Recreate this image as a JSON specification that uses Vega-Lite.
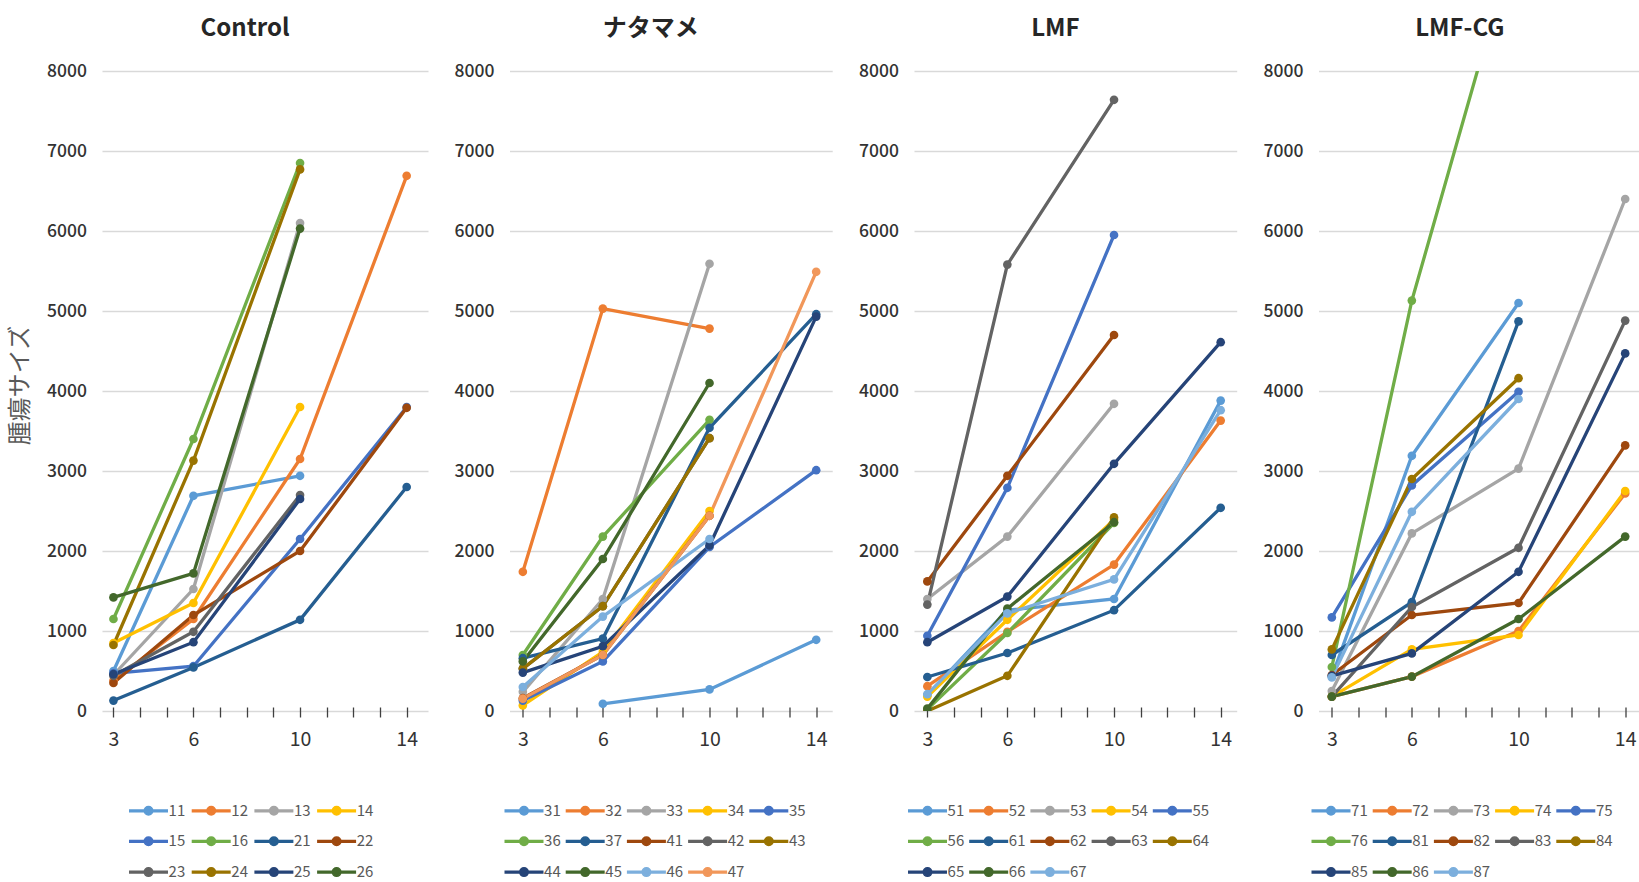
{
  "$schema": "https://vega.github.io/schema/vega-lite/v6.json",
  "padding": {"left": 8, "top": 16, "right": 0, "bottom": 0},
  "background": "white",
  "spacing": 25.5,
  "datasets": {
    "control": [
      {"id": "11", "day": 3, "size": 500}, {"id": "11", "day": 6, "size": 2690}, {"id": "11", "day": 10, "size": 2940},
      {"id": "12", "day": 3, "size": 380}, {"id": "12", "day": 6, "size": 1150}, {"id": "12", "day": 10, "size": 3150}, {"id": "12", "day": 14, "size": 6690},
      {"id": "13", "day": 3, "size": 450}, {"id": "13", "day": 6, "size": 1525}, {"id": "13", "day": 10, "size": 6100},
      {"id": "14", "day": 3, "size": 850}, {"id": "14", "day": 6, "size": 1350}, {"id": "14", "day": 10, "size": 3800},
      {"id": "15", "day": 3, "size": 470}, {"id": "15", "day": 6, "size": 560}, {"id": "15", "day": 10, "size": 2150}, {"id": "15", "day": 14, "size": 3800},
      {"id": "16", "day": 3, "size": 1150}, {"id": "16", "day": 6, "size": 3400}, {"id": "16", "day": 10, "size": 6850},
      {"id": "21", "day": 3, "size": 130}, {"id": "21", "day": 6, "size": 545}, {"id": "21", "day": 10, "size": 1140}, {"id": "21", "day": 14, "size": 2800},
      {"id": "22", "day": 3, "size": 350}, {"id": "22", "day": 6, "size": 1200}, {"id": "22", "day": 10, "size": 2000}, {"id": "22", "day": 14, "size": 3790},
      {"id": "23", "day": 3, "size": 440}, {"id": "23", "day": 6, "size": 990}, {"id": "23", "day": 10, "size": 2700},
      {"id": "24", "day": 3, "size": 825}, {"id": "24", "day": 6, "size": 3130}, {"id": "24", "day": 10, "size": 6770},
      {"id": "25", "day": 3, "size": 460}, {"id": "25", "day": 6, "size": 860}, {"id": "25", "day": 10, "size": 2650},
      {"id": "26", "day": 3, "size": 1420}, {"id": "26", "day": 6, "size": 1720}, {"id": "26", "day": 10, "size": 6030}
    ],
    "natamame": [
      {"id": "31", "day": 6, "size": 90}, {"id": "31", "day": 10, "size": 270}, {"id": "31", "day": 14, "size": 890},
      {"id": "32", "day": 3, "size": 1740}, {"id": "32", "day": 6, "size": 5030}, {"id": "32", "day": 10, "size": 4780},
      {"id": "33", "day": 3, "size": 240}, {"id": "33", "day": 6, "size": 1400}, {"id": "33", "day": 10, "size": 5590},
      {"id": "34", "day": 3, "size": 70}, {"id": "34", "day": 6, "size": 740}, {"id": "34", "day": 10, "size": 2500},
      {"id": "35", "day": 3, "size": 130}, {"id": "35", "day": 6, "size": 620}, {"id": "35", "day": 10, "size": 2050}, {"id": "35", "day": 14, "size": 3010},
      {"id": "36", "day": 3, "size": 700}, {"id": "36", "day": 6, "size": 2180}, {"id": "36", "day": 10, "size": 3640},
      {"id": "37", "day": 3, "size": 660}, {"id": "37", "day": 6, "size": 905}, {"id": "37", "day": 10, "size": 3540}, {"id": "37", "day": 14, "size": 4960},
      {"id": "41", "day": 3, "size": 160}, {"id": "41", "day": 6, "size": 700}, {"id": "41", "day": 10, "size": 2440},
      {"id": "42", "day": 3, "size": 530}, {"id": "42", "day": 6, "size": 1310}, {"id": "42", "day": 10, "size": 3410},
      {"id": "43", "day": 3, "size": 530}, {"id": "43", "day": 6, "size": 1310}, {"id": "43", "day": 10, "size": 3410},
      {"id": "44", "day": 3, "size": 480}, {"id": "44", "day": 6, "size": 810}, {"id": "44", "day": 10, "size": 2070}, {"id": "44", "day": 14, "size": 4930},
      {"id": "45", "day": 3, "size": 620}, {"id": "45", "day": 6, "size": 1900}, {"id": "45", "day": 10, "size": 4100},
      {"id": "46", "day": 3, "size": 300}, {"id": "46", "day": 6, "size": 1180}, {"id": "46", "day": 10, "size": 2150},
      {"id": "47", "day": 3, "size": 155}, {"id": "47", "day": 6, "size": 700}, {"id": "47", "day": 10, "size": 2440}, {"id": "47", "day": 14, "size": 5490}
    ],
    "lmf": [
      {"id": "51", "day": 3, "size": 200}, {"id": "51", "day": 6, "size": 1260}, {"id": "51", "day": 10, "size": 1400}, {"id": "51", "day": 14, "size": 3880},
      {"id": "52", "day": 3, "size": 310}, {"id": "52", "day": 6, "size": 990}, {"id": "52", "day": 10, "size": 1830}, {"id": "52", "day": 14, "size": 3630},
      {"id": "53", "day": 3, "size": 1400}, {"id": "53", "day": 6, "size": 2180}, {"id": "53", "day": 10, "size": 3840},
      {"id": "54", "day": 3, "size": 180}, {"id": "54", "day": 6, "size": 1140}, {"id": "54", "day": 10, "size": 2390},
      {"id": "55", "day": 3, "size": 940}, {"id": "55", "day": 6, "size": 2790}, {"id": "55", "day": 10, "size": 5950},
      {"id": "56", "day": 3, "size": 20}, {"id": "56", "day": 6, "size": 975}, {"id": "56", "day": 10, "size": 2350},
      {"id": "61", "day": 3, "size": 425}, {"id": "61", "day": 6, "size": 725}, {"id": "61", "day": 10, "size": 1260}, {"id": "61", "day": 14, "size": 2540},
      {"id": "62", "day": 3, "size": 1620}, {"id": "62", "day": 6, "size": 2940}, {"id": "62", "day": 10, "size": 4700},
      {"id": "63", "day": 3, "size": 1330}, {"id": "63", "day": 6, "size": 5580}, {"id": "63", "day": 10, "size": 7640},
      {"id": "64", "day": 3, "size": 0}, {"id": "64", "day": 6, "size": 440}, {"id": "64", "day": 10, "size": 2420},
      {"id": "65", "day": 3, "size": 860}, {"id": "65", "day": 6, "size": 1430}, {"id": "65", "day": 10, "size": 3090}, {"id": "65", "day": 14, "size": 4610},
      {"id": "66", "day": 3, "size": 30}, {"id": "66", "day": 6, "size": 1280}, {"id": "66", "day": 10, "size": 2360},
      {"id": "67", "day": 3, "size": 210}, {"id": "67", "day": 6, "size": 1220}, {"id": "67", "day": 10, "size": 1645}, {"id": "67", "day": 14, "size": 3760}
    ],
    "lmfcg": [
      {"id": "71", "day": 3, "size": 430}, {"id": "71", "day": 6, "size": 3190}, {"id": "71", "day": 10, "size": 5100},
      {"id": "72", "day": 3, "size": 180}, {"id": "72", "day": 6, "size": 430}, {"id": "72", "day": 10, "size": 1000}, {"id": "72", "day": 14, "size": 2720},
      {"id": "73", "day": 3, "size": 250}, {"id": "73", "day": 6, "size": 2220}, {"id": "73", "day": 10, "size": 3030}, {"id": "73", "day": 14, "size": 6400},
      {"id": "74", "day": 3, "size": 180}, {"id": "74", "day": 6, "size": 770}, {"id": "74", "day": 10, "size": 950}, {"id": "74", "day": 14, "size": 2750},
      {"id": "75", "day": 3, "size": 1170}, {"id": "75", "day": 6, "size": 2820}, {"id": "75", "day": 10, "size": 3990},
      {"id": "76", "day": 3, "size": 550}, {"id": "76", "day": 6, "size": 5130}, {"id": "76", "day": 10, "size": 9800},
      {"id": "81", "day": 3, "size": 700}, {"id": "81", "day": 6, "size": 1360}, {"id": "81", "day": 10, "size": 4870},
      {"id": "82", "day": 3, "size": 450}, {"id": "82", "day": 6, "size": 1200}, {"id": "82", "day": 10, "size": 1350}, {"id": "82", "day": 14, "size": 3320},
      {"id": "83", "day": 3, "size": 180}, {"id": "83", "day": 6, "size": 1300}, {"id": "83", "day": 10, "size": 2040}, {"id": "83", "day": 14, "size": 4880},
      {"id": "84", "day": 3, "size": 770}, {"id": "84", "day": 6, "size": 2900}, {"id": "84", "day": 10, "size": 4160},
      {"id": "85", "day": 3, "size": 440}, {"id": "85", "day": 6, "size": 720}, {"id": "85", "day": 10, "size": 1740}, {"id": "85", "day": 14, "size": 4470},
      {"id": "86", "day": 3, "size": 180}, {"id": "86", "day": 6, "size": 430}, {"id": "86", "day": 10, "size": 1150}, {"id": "86", "day": 14, "size": 2180},
      {"id": "87", "day": 3, "size": 420}, {"id": "87", "day": 6, "size": 2490}, {"id": "87", "day": 10, "size": 3900}
    ]
  },
  "hconcat": [
    {
      "title": "Control",
      "width": 326, "height": 640,
      "data": {"name": "control"},
      "encoding": {
        "x": {"field": "day", "type": "quantitative", "scale": {"domain": [2.57, 14.8], "nice": false, "zero": false},
              "axis": {"title": null, "values": [3,4,5,6,7,8,9,10,11,12,13,14], "labelExpr": "indexof([3,6,10,14], datum.value) >= 0 ? datum.label : ''"}},
        "y": {"field": "size", "type": "quantitative", "scale": {"domain": [0, 8000], "nice": false},
              "axis": {"title": "腫瘍サイズ", "titleY": 314, "format": "d", "values": [0,1000,2000,3000,4000,5000,6000,7000,8000]}},
        "color": {"field": "id", "type": "nominal",
            "scale": {"domain": ["11","12","13","14","15","16","21","22","23","24","25","26"],
                      "range": ["#5B9BD5","#ED7D31","#A5A5A5","#FFC000","#4472C4","#70AD47","#255E91","#9E480E","#636363","#997300","#264478","#43682B"]},
            "legend": {"title": null, "columns": 4, "columnPadding": 2.7, "legendX": 33, "legendY": 726}}
      },
      "layer": [
        {"mark": {"type": "line", "strokeWidth": 3.3, "clip": true}, "encoding": {}},
        {"mark": {"type": "point", "filled": true, "opacity": 1, "size": 75, "clip": true}, "encoding": {}}
      ]
    },
    {
      "title": "ナタマメ",
      "width": 322.7, "height": 640,
      "data": {"name": "natamame"},
      "encoding": {
        "x": {"field": "day", "type": "quantitative", "scale": {"domain": [2.5, 14.6], "nice": false, "zero": false},
              "axis": {"title": null, "values": [3,4,5,6,7,8,9,10,11,12,13,14], "labelExpr": "indexof([3,6,10,14], datum.value) >= 0 ? datum.label : ''"}},
        "y": {"field": "size", "type": "quantitative", "scale": {"domain": [0, 8000], "nice": false},
              "axis": {"title": null, "format": "d", "values": [0,1000,2000,3000,4000,5000,6000,7000,8000]}},
        "color": {"field": "id", "type": "nominal",
            "scale": {"domain": ["31","32","33","34","35","36","37","41","42","43","44","45","46","47"],
                      "range": ["#5B9BD5","#ED7D31","#A5A5A5","#FFC000","#4472C4","#70AD47","#255E91","#9E480E","#636363","#997300","#264478","#43682B","#7CAFDD","#F1975A"]},
            "legend": {"title": null, "columns": 5, "columnPadding": 1.2, "legendX": 1, "legendY": 726}}
      },
      "layer": [
        {"mark": {"type": "line", "strokeWidth": 3.3, "clip": true}, "encoding": {}},
        {"mark": {"type": "point", "filled": true, "opacity": 1, "size": 75, "clip": true}, "encoding": {}}
      ]
    },
    {
      "title": "LMF",
      "width": 322.7, "height": 640,
      "data": {"name": "lmf"},
      "encoding": {
        "x": {"field": "day", "type": "quantitative", "scale": {"domain": [2.5, 14.6], "nice": false, "zero": false},
              "axis": {"title": null, "values": [3,4,5,6,7,8,9,10,11,12,13,14], "labelExpr": "indexof([3,6,10,14], datum.value) >= 0 ? datum.label : ''"}},
        "y": {"field": "size", "type": "quantitative", "scale": {"domain": [0, 8000], "nice": false},
              "axis": {"title": null, "format": "d", "values": [0,1000,2000,3000,4000,5000,6000,7000,8000]}},
        "color": {"field": "id", "type": "nominal",
            "scale": {"domain": ["51","52","53","54","55","56","61","62","63","64","65","66","67"],
                      "range": ["#5B9BD5","#ED7D31","#A5A5A5","#FFC000","#4472C4","#70AD47","#255E91","#9E480E","#636363","#997300","#264478","#43682B","#7CAFDD"]},
            "legend": {"title": null, "columns": 5, "columnPadding": 1.2, "legendX": 0, "legendY": 726}}
      },
      "layer": [
        {"mark": {"type": "line", "strokeWidth": 3.3, "clip": true}, "encoding": {}},
        {"mark": {"type": "point", "filled": true, "opacity": 1, "size": 75, "clip": true}, "encoding": {}}
      ]
    },
    {
      "title": "LMF-CG",
      "width": 322.7, "height": 640,
      "data": {"name": "lmfcg"},
      "encoding": {
        "x": {"field": "day", "type": "quantitative", "scale": {"domain": [2.5, 14.6], "nice": false, "zero": false},
              "axis": {"title": null, "values": [3,4,5,6,7,8,9,10,11,12,13,14], "labelExpr": "indexof([3,6,10,14], datum.value) >= 0 ? datum.label : ''"}},
        "y": {"field": "size", "type": "quantitative", "scale": {"domain": [0, 8000], "nice": false},
              "axis": {"title": null, "format": "d", "values": [0,1000,2000,3000,4000,5000,6000,7000,8000]}},
        "color": {"field": "id", "type": "nominal",
            "scale": {"domain": ["71","72","73","74","75","76","81","82","83","84","85","86","87"],
                      "range": ["#5B9BD5","#ED7D31","#A5A5A5","#FFC000","#4472C4","#70AD47","#255E91","#9E480E","#636363","#997300","#264478","#43682B","#7CAFDD"]},
            "legend": {"title": null, "columns": 5, "columnPadding": 1.2, "legendX": -1, "legendY": 726}}
      },
      "layer": [
        {"mark": {"type": "line", "strokeWidth": 3.3, "clip": true}, "encoding": {}},
        {"mark": {"type": "point", "filled": true, "opacity": 1, "size": 75, "clip": true}, "encoding": {}}
      ]
    }
  ],
  "resolve": {"scale": {"color": "independent", "x": "independent", "y": "independent"}, "legend": {"color": "independent"}},
  "config": {
    "view": {"stroke": null},
    "title": {"font": "Noto Sans CJK JP", "fontSize": 24, "fontWeight": "bold", "color": "#262626", "anchor": "middle", "frame": "group", "dx": -20, "baseline": "alphabetic", "offset": 21.4},
    "axisY": {"grid": true, "gridColor": "#D9D9D9", "gridWidth": 1.6, "domain": false, "ticks": false,
              "labelFont": "Noto Sans CJK JP", "labelFontSize": 17.5, "labelFontWeight": 500, "labelColor": "#333333", "labelPadding": 15.5,
              "titleFont": "Noto Sans CJK JP", "titleFontSize": 24, "titleFontWeight": "normal", "titleColor": "#595959", "titlePadding": 14.5},
    "axisX": {"grid": false, "domain": false, "ticks": true, "tickColor": "#404040", "tickWidth": 1.3, "tickSize": 10, "offset": -4,
              "labelFont": "Noto Sans CJK JP", "labelFontSize": 19.5, "labelColor": "#333333", "labelPadding": 13, "labelFlush": false, "labelOverlap": false},
    "legend": {"orient": "none", "direction": "horizontal", "padding": 0,
               "symbolType": "M-1.5,-0.07H1.5V0.07H-1.5Z M-0.34,0A0.34,0.34 0 1 1 0.34,0A0.34,0.34 0 1 1 -0.34,0Z",
               "symbolSize": 625, "symbolStrokeWidth": 1.5, "symbolOpacity": 1,
               "labelFont": "Noto Sans CJK JP", "labelFontSize": 15, "labelColor": "#595959", "labelOffset": 6.6,
               "columnPadding": 2.7, "rowPadding": 8.8, "gridAlign": "each"}
  }
}
